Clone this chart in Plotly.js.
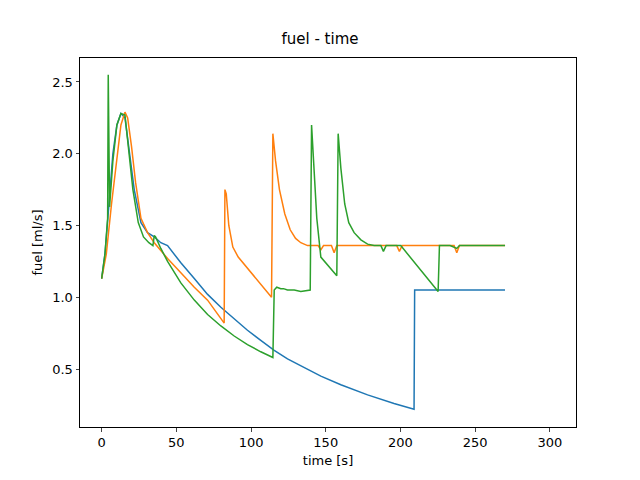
<!DOCTYPE html><html><head><script src="https://cdn.plot.ly/plotly-3.0.1.min.js"></script></head><body style="margin:0">
<div id="c" style="width:640px;height:480px"></div>
<script>
const blueX=[0,2.2,4.9,7.5,10.2,12.9,15.6,18.2,21.8,26.3,30.7,35.2,39.6,44.1,53,62,70.9,79.8,88.7,97.6,106.5,115.5,124.4,133.3,146.7,160.1,178,195.7,209.1,209.5,270];
const blueY=[1.13,1.3,1.65,2.0,2.2,2.28,2.25,2.05,1.75,1.52,1.45,1.42,1.38,1.36,1.24,1.13,1.02,0.93,0.85,0.77,0.7,0.63,0.57,0.52,0.45,0.39,0.32,0.26,0.22,1.05,1.05];
const orX=[0,3.1,6.6,10.2,12.9,15.6,17.4,20,22.7,26.3,30.7,35.2,44.1,53,62,70.9,82,82.5,83.4,85.1,87.8,91.4,97.6,106.5,113.7,114.6,116.4,119,122.6,126.2,129.8,133.3,137.8,144.9,146.7,148.5,153.8,155.6,157.4,197.5,199.3,201.1,235.9,237.7,239.5,270];
const orY=[1.13,1.3,1.65,1.98,2.2,2.29,2.25,2.05,1.8,1.55,1.45,1.38,1.27,1.17,1.07,0.98,0.82,1.75,1.72,1.5,1.35,1.28,1.2,1.09,1.0,2.14,1.95,1.75,1.58,1.47,1.41,1.38,1.36,1.36,1.33,1.36,1.36,1.31,1.36,1.36,1.32,1.36,1.36,1.31,1.36,1.36];
const grX=[0,2.2,4,4.4,5.3,5.8,7.5,10.2,12.9,15.6,17.4,20.9,24.5,28,31.6,34.3,35.2,36.1,39.6,44.1,53,62,70.9,79.8,88.7,97.6,106.5,114.6,115.5,117.2,119.9,121.7,124.4,128.9,133.3,137.8,139.6,140.5,142.2,144,146.7,157.4,158.3,160.1,162.7,165.4,169,173.5,178,182.4,186.9,188.6,190.4,200.2,225.2,226.1,233.2,237.7,239.5,270];
const grY=[1.13,1.3,1.55,2.55,1.63,1.7,1.95,2.2,2.28,2.27,2.1,1.75,1.52,1.42,1.38,1.36,1.43,1.42,1.34,1.25,1.1,0.98,0.88,0.8,0.73,0.67,0.62,0.58,1.05,1.07,1.06,1.06,1.05,1.05,1.04,1.05,1.05,2.2,1.9,1.55,1.28,1.15,2.14,1.9,1.65,1.52,1.45,1.4,1.37,1.36,1.36,1.32,1.36,1.36,1.04,1.36,1.36,1.34,1.36,1.36];
const mk=(x,y,c)=>({x,y,type:'scatter',mode:'lines',line:{color:c,width:1.5},showlegend:false});
Plotly.newPlot('c',[mk(blueX,blueY,'#1f77b4'),mk(orX,orY,'#ff7f0e'),mk(grX,grY,'#2ca02c')],{
width:640,height:480,paper_bgcolor:'#fff',plot_bgcolor:'#fff',
font:{family:'DejaVu Sans',size:13,color:'#000'},
margin:{l:80,r:64,t:58,b:53},
title:{text:'fuel - time',x:0.5,xanchor:'center',y:0.92,yanchor:'middle',font:{size:15}},
xaxis:{title:{text:'time [s]',font:{size:13},standoff:6},range:[-14.5,317.5],tickvals:[0,50,100,150,200,250,300],showgrid:false,zeroline:false,showline:true,mirror:true,linecolor:'#000',ticks:'outside',ticklen:3.5},
yaxis:{title:{text:'fuel [ml/s]',font:{size:13},standoff:6},range:[0.096,2.667],tickvals:[0.5,1,1.5,2,2.5],ticktext:['0.5','1.0','1.5','2.0','2.5'],showgrid:false,zeroline:false,showline:true,mirror:true,linecolor:'#000',ticks:'outside',ticklen:3.5}
},{displayModeBar:false});
</script></body></html>
